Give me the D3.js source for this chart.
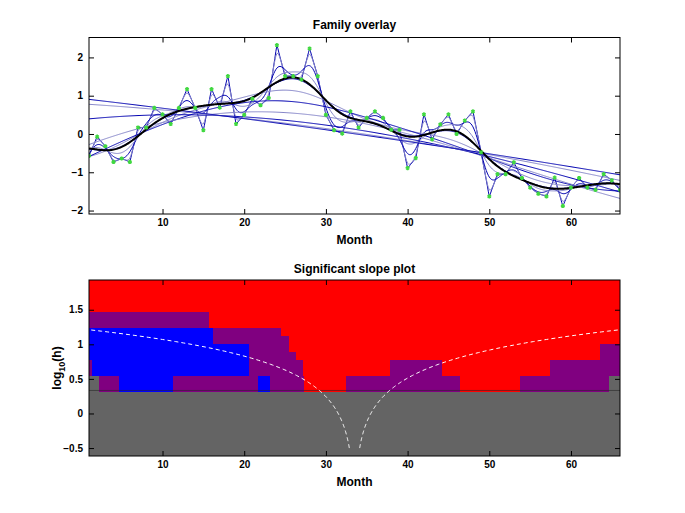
<!DOCTYPE html>
<html><head><meta charset="utf-8">
<script src="https://cdn.jsdelivr.net/npm/d3@7"></script>
<style>
body{margin:0;background:#fff;}
text{font-family:"Liberation Sans",Arial,Helvetica,sans-serif;font-weight:bold;fill:#000;}
</style>
</head><body>
<svg id="c" width="685" height="513"></svg>
<script>
// ---------------- data ----------------
const months = d3.range(1, 67);
const values = [
 -0.57,-0.07,-0.32,-0.73,-0.64,-0.73, 0.17, 0.17, 0.68, 0.51,
  0.26, 0.68, 1.17, 0.68, 0.10, 1.17, 0.69, 1.51, 0.26, 0.50,
  0.92, 0.75, 0.94, 2.32, 1.51, 1.51, 1.42, 2.23, 1.51, 0.50,
  0.10, 0.01, 0.59, 0.17, 0.42, 0.59, 0.42, 0.11, 0.11,-0.89,
 -0.63, 0.51,-0.14, 0.25, 0.51, 0.00, 0.35, 0.59,-0.48,-1.63,
 -1.05,-1.05,-0.74,-1.15,-1.40,-1.56,-1.63,-1.14,-1.88,-1.40,
 -1.15,-1.40,-1.46,-1.05,-1.21,-1.46];
const familyBandwidths = [0.28, 0.49, 0.87, 1.53, 2.68, 4.7, 8.3, 14.5, 25.5, 44.8, 78.6];
const highlightBandwidth = 2.5;

const xTicks = [10, 20, 30, 40, 50, 60];
const yTicksTop = [-2, -1, 0, 1, 2];
const yTicksBottom = [-0.5, 0, 0.5, 1, 1.5];

// SiZer map: row centres in log10(h), top to bottom; runs [fromMonth, toMonth, code]
const logH = [1.873,1.757,1.642,1.526,1.410,1.294,1.179,1.063,0.947,0.832,0.716,
              0.600,0.484,0.369,0.253,0.137,0.022,-0.094,-0.210,-0.325,-0.441,-0.557];
const allRed = [[1,66,'R']];
const allGray = [[1,66,'G']];
const mapRows = [
 allRed, allRed, allRed, allRed,
 [[1,15.72,'P'],[15.72,66,'R']],
 [[1,15.72,'P'],[15.72,66,'R']],
 [[1,16.13,'B'],[16.13,24.51,'P'],[24.51,66,'R']],
 [[1,16.13,'B'],[16.13,25.53,'P'],[25.53,66,'R']],
 [[1,20.62,'B'],[20.62,25.53,'P'],[25.53,63.6,'R'],[63.6,66,'P']],
 [[1,20.62,'B'],[20.62,26.35,'P'],[26.35,63.6,'R'],[63.6,66,'P']],
 [[1,1.42,'P'],[1.42,20.62,'B'],[20.62,27.17,'P'],[27.17,37.88,'R'],[37.88,44.22,'P'],[44.22,57.4,'R'],[57.4,66,'P']],
 [[1,1.42,'P'],[1.42,20.62,'B'],[20.62,27.17,'P'],[27.17,37.88,'R'],[37.88,44.22,'P'],[44.22,57.4,'R'],[57.4,66,'P']],
 [[1,2.23,'G'],[2.23,4.68,'P'],[4.68,11.3,'B'],[11.3,21.65,'P'],[21.65,23.16,'B'],[23.16,27.37,'P'],[27.37,32.48,'R'],[32.48,46.46,'P'],[46.46,53.7,'R'],[53.7,64.65,'P'],[64.65,66,'G']],
 [[1,2.23,'G'],[2.23,4.68,'P'],[4.68,11.3,'B'],[11.3,21.65,'P'],[21.65,23.16,'B'],[23.16,27.37,'P'],[27.37,32.48,'R'],[32.48,46.46,'P'],[46.46,53.7,'R'],[53.7,64.65,'P'],[64.65,66,'G']],
 allGray, allGray, allGray, allGray, allGray, allGray, allGray, allGray
];
const codeColor = {R:'#ff0000', P:'#800080', B:'#0000ff', G:'#646464'};
const dashedLogH = d3.range(-0.5, 1.95, 0.01);

// ---------------- layout ----------------
const svg = d3.select('#c');
const L = 89, R = 620;
const top1 = 37.5, bot1 = 214;
const top2 = 280, bot2 = 456;

const x = d3.scaleLinear().domain([1, 66]).range([L, R]);
const y1 = d3.scaleLinear().domain([-2.09, 2.52]).range([bot1, top1]);
const y2 = d3.scaleLinear().domain([-0.615, 1.93]).range([bot2, top2]);

const defs = svg.append('defs');
defs.append('clipPath').attr('id','clip1').append('rect')
  .attr('x',L).attr('y',top1).attr('width',R-L).attr('height',bot1-top1);
defs.append('clipPath').attr('id','clip2').append('rect')
  .attr('x',L).attr('y',top2).attr('width',R-L).attr('height',bot2-top2);

// ---------------- top: family overlay ----------------
function llSmooth(h, grid) {
  return grid.map(x0 => {
    let s0=0,s1=0,s2=0,t0=0,t1=0;
    for (let i=0;i<months.length;i++){
      const d = months[i]-x0;
      const w = Math.exp(-0.5*(d/h)*(d/h));
      s0+=w; s1+=w*d; s2+=w*d*d; t0+=w*values[i]; t1+=w*d*values[i];
    }
    const den = s0*s2 - s1*s1;
    const est = den > 1e-12 ? (s2*t0 - s1*t1)/den : t0/s0;
    return [x0, est];
  });
}
const evalGrid = d3.range(0, 521).map(i => 1 + i*65/520);
const line1 = d3.line().x(d=>x(d[0])).y(d=>y1(d[1]));

const g1 = svg.append('g').attr('clip-path','url(#clip1)');
familyBandwidths.forEach((h,i) => {
  g1.append('path').attr('d', line1(llSmooth(h, evalGrid)))
    .attr('fill','none')
    .attr('stroke', i%2===0 ? '#0000b0' : '#8585c8')
    .attr('stroke-width', 1);
});
g1.append('path').attr('d', line1(llSmooth(highlightBandwidth, evalGrid)))
  .attr('fill','none').attr('stroke','#000').attr('stroke-width',2);

const star = d3.symbol().type(d3.symbolAsterisk || d3.symbolCross).size(12);
g1.selectAll('path.pt').data(months).enter().append('path')
  .attr('class','pt')
  .attr('transform', (m,i) => `translate(${x(m)},${y1(values[i])})`)
  .attr('d', star)
  .attr('fill','#40d840').attr('stroke','#40d840').attr('stroke-width',1.6);

function drawAxes(y, top, bot, yTicks, fmt) {
  const g = svg.append('g');
  g.append('g').attr('transform',`translate(0,${bot})`)
    .call(d3.axisBottom(x).tickValues(xTicks).tickSize(-5).tickPadding(5).tickFormat(d3.format('d')));
  g.append('g').attr('transform',`translate(0,${top})`)
    .call(d3.axisTop(x).tickValues(xTicks).tickSize(-5).tickFormat(''));
  g.append('g').attr('transform',`translate(${L},0)`)
    .call(d3.axisLeft(y).tickValues(yTicks).tickSize(-5).tickPadding(6).tickFormat(fmt));
  g.append('g').attr('transform',`translate(${R},0)`)
    .call(d3.axisRight(y).tickValues(yTicks).tickSize(-5).tickFormat(''));
  g.selectAll('.domain').remove();
  g.selectAll('.tick line').attr('stroke','#000');
  g.selectAll('.tick text').style('font-size','10px').style('font-weight','bold')
    .style('font-family','"Liberation Sans",Arial,sans-serif').attr('fill','#000');
  g.append('rect').attr('x',L).attr('y',top).attr('width',R-L).attr('height',bot-top)
    .attr('fill','none').attr('stroke','#000').attr('stroke-width',1);
}
drawAxes(y1, top1, bot1, yTicksTop, d3.format('d'));

svg.append('text').attr('x',(L+R)/2).attr('y',29).attr('text-anchor','middle')
  .style('font-size','12px').text('Family overlay');
svg.append('text').attr('x',(L+R)/2).attr('y',244).attr('text-anchor','middle')
  .style('font-size','12px').text('Month');

// ---------------- bottom: SiZer map ----------------
const g2 = svg.append('g').attr('clip-path','url(#clip2)');
const halfRow = (logH[0]-logH[1])/2;
const cells = [];
mapRows.forEach((row, r) => row.forEach(run => cells.push({r, x0:run[0], x1:run[1], c:run[2]})));
g2.selectAll('rect.cell').data(cells).enter().append('rect')
  .attr('class','cell')
  .attr('x', d => x(d.x0))
  .attr('width', d => x(d.x1) - x(d.x0))
  .attr('y', d => y2(logH[d.r] + halfRow))
  .attr('height', d => y2(logH[d.r] - halfRow) - y2(logH[d.r] + halfRow))
  .attr('fill', d => codeColor[d.c])
  .attr('shape-rendering','crispEdges');

const edgeY = logH[13] - halfRow;
g2.append('line').attr('x1',L).attr('x2',R).attr('y1',y2(edgeY)-1.5).attr('y2',y2(edgeY)-1.5)
  .attr('stroke','#2a2a2a').attr('stroke-width',1).attr('stroke-opacity',0.6);

const centre = (months[0] + months[months.length-1]) / 2;
const lineD = d3.line().x(d=>x(d[0])).y(d=>y2(d[1]));
[-1, 1].forEach(sgn => {
  const pts = dashedLogH.map(v => [centre + sgn*2*Math.pow(10, v), v])
    .filter(p => p[0] >= 1 && p[0] <= 66);
  g2.append('path').attr('d', lineD(pts)).attr('fill','none')
    .attr('stroke','#ffffff').attr('stroke-width',1).attr('stroke-dasharray','4,3');
});

drawAxes(y2, top2, bot2, yTicksBottom, d => (d===0 ? '0' : d3.format('')(d)));

svg.append('text').attr('x',(L+R)/2).attr('y',273).attr('text-anchor','middle')
  .style('font-size','12px').text('Significant slope plot');
svg.append('text').attr('x',(L+R)/2).attr('y',486).attr('text-anchor','middle')
  .style('font-size','12px').text('Month');
const yl = svg.append('text').attr('transform',`translate(61,${(top2+bot2)/2}) rotate(-90)`)
  .attr('text-anchor','middle').style('font-size','12px');
yl.append('tspan').text('log');
yl.append('tspan').attr('dy',4).style('font-size','9px').text('10');
yl.append('tspan').attr('dy',-4).text('(h)');
</script>
</body></html>
